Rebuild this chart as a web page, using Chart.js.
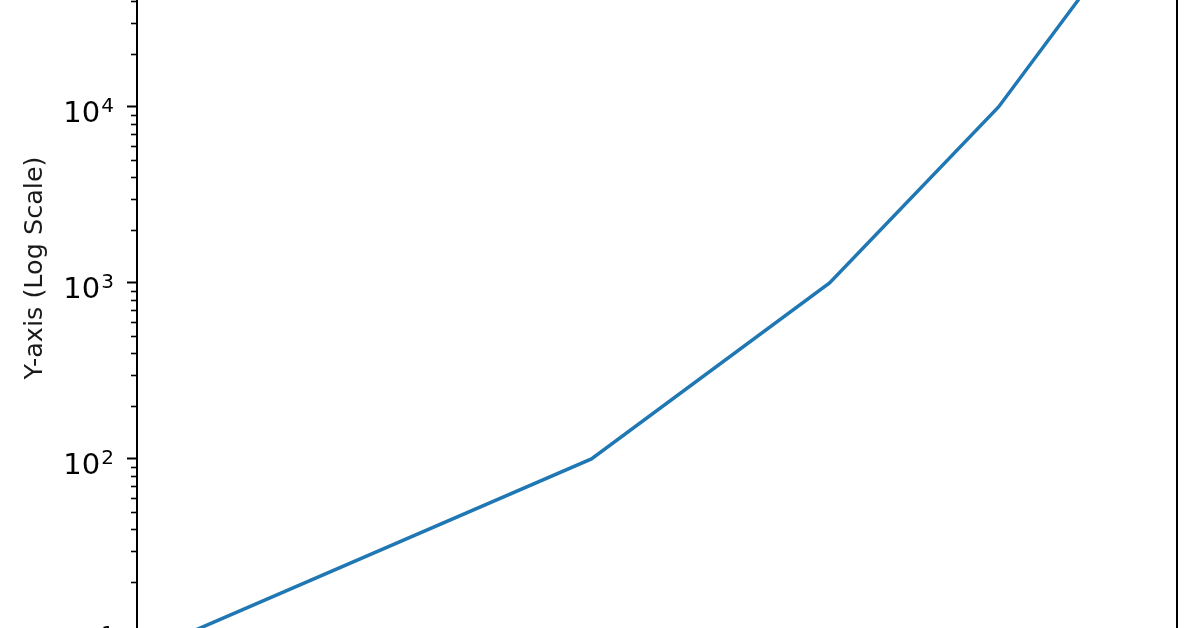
<!DOCTYPE html>
<html>
<head>
<meta charset="utf-8">
<script src="https://cdn.jsdelivr.net/npm/chart.js@4.4.1/dist/chart.umd.min.js"></script>
<style>
  html, body { margin: 0; padding: 0; background: #fff; }
  body { width: 1196px; height: 628px; overflow: hidden; position: relative; }
  #wrap { position: absolute; left: 0; top: -150px; width: 1196px; height: 928px; }
</style>
</head>
<body>
<div id="wrap"><canvas id="myCanvas"></canvas></div>
<script>
// data
let xValues = [1, 2, 3, 4, 5]
let yValues = [10, 100, 1000, 10000, 100000]
let yTickValues = [10, 100, 1000, 10000, 100000]
let yTickBase = ["10", "10", "10", "10", "10"]
let yTickExp = ["1", "2", "3", "4", "5"]

// axis limits
let xMin = 0.9226
let xMax = 5.42
let yMin = 6.31
let yMax = 234000

let punti = xValues.map((x, i) => ({ x: x, y: yValues[i] }))

// minor ticks, the right border and the 10^n labels with a raised exponent
let decorazioni = {
  id: "decorazioni",
  afterDraw(chart) {
    let ctx = chart.ctx
    let y = chart.scales.y
    let area = chart.chartArea
    ctx.save()
    ctx.strokeStyle = "#000"
    ctx.lineWidth = 1.6
    for (let n = 0; n <= 5; n++) {
      for (let m = 2; m <= 9; m++) {
        let v = m * Math.pow(10, n)
        if (v < yMin || v > yMax) continue
        let py = Math.round(y.getPixelForValue(v)) + 0.5
        ctx.beginPath()
        ctx.moveTo(area.left - 6, py)
        ctx.lineTo(area.left, py)
        ctx.stroke()
      }
    }
    ctx.lineWidth = 2
    ctx.beginPath()
    ctx.moveTo(area.right, area.top)
    ctx.lineTo(area.right, area.bottom)
    ctx.stroke()

    ctx.fillStyle = "#000"
    ctx.textBaseline = "alphabetic"
    ctx.textAlign = "left"
    let destra = area.left - 23
    yTickValues.forEach((v, i) => {
      let py = y.getPixelForValue(v)
      ctx.font = "20px 'DejaVu Sans'"
      let wExp = ctx.measureText(yTickExp[i]).width
      ctx.fillText(yTickExp[i], destra - wExp, py + 5.5)
      ctx.font = "29px 'DejaVu Sans'"
      let wBase = ctx.measureText(yTickBase[i]).width
      ctx.fillText(yTickBase[i], destra - wExp - 1 - wBase, py + 15.5)
    })
    ctx.restore()
  }
}

creaGrafico()

function creaGrafico() {
  let myCanvas = document.querySelector("#myCanvas").getContext("2d")

  new Chart(myCanvas, {
    type: "line",
    data: {
      datasets: [
        {
          data: punti,
          borderColor: "#1f77b4",
          borderWidth: 3.5,
          pointRadius: 0,
          fill: false,
          tension: 0,
        },
      ],
    },
    options: {
      responsive: true,
      maintainAspectRatio: false,
      animation: false,
      layout: { padding: { top: 16, right: 19, left: 0, bottom: 0 } },
      plugins: {
        legend: { display: false },
        tooltip: { enabled: false },
      },
      scales: {
        x: {
          type: "logarithmic",
          min: xMin,
          max: xMax,
          grid: { display: false },
          border: { display: true, color: "#000", width: 2 },
          ticks: { display: false },
          afterFit(scale) { scale.height = 108 },
        },
        y: {
          type: "logarithmic",
          min: yMin,
          max: yMax,
          afterBuildTicks(scale) {
            scale.ticks = yTickValues.map(v => ({ value: v, major: true }))
          },
          afterFit(scale) { scale.width = 137 },
          grid: {
            drawOnChartArea: false,
            drawTicks: true,
            tickLength: 10,
            tickWidth: 2,
            tickColor: "#000",
          },
          border: { display: true, color: "#000", width: 2 },
          ticks: {
            color: "rgba(0,0,0,0)",
            font: { family: "DejaVu Sans", size: 12 },
            callback: () => "",
          },
          title: {
            display: true,
            text: "Y-axis (Log Scale)",
            color: "#1a1a1a",
            font: { family: "DejaVu Sans", size: 25.5 },
            padding: { top: 20, bottom: 0 },
          },
        },
      },
    },
    plugins: [decorazioni],
  })
}
</script>
</body>
</html>
